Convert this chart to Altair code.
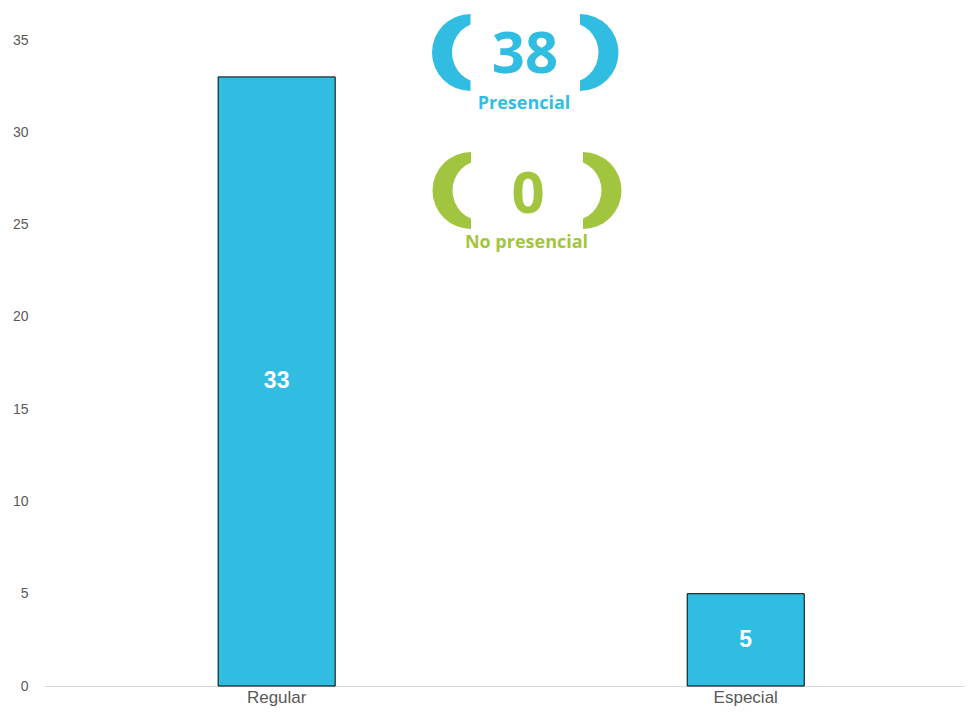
import math
import altair as alt
import pandas as pd

# ---------------- data ----------------
categories = ["Regular", "Especial"]
counts = [33, 5]
y_ticks = [0, 5, 10, 15, 20, 25, 30, 35]

kpi_values = [38, 0]
kpi_labels = ["Presencial", "No presencial"]
kpi_colors = ["#31BDE2", "#A2C540"]

# ---------------- style ----------------
BAR_COLOR = "#31BDE2"
AXIS_TEXT = "#595959"
FONT = "Liberation Sans"
KPI_FONT = "Open Sans"

bars_df = pd.DataFrame({"tipo": categories, "n": counts})

x_enc = alt.X(
    "tipo:N",
    sort=categories,
    title=None,
    scale=alt.Scale(paddingInner=0.7505, paddingOuter=0.357, align=0.52),
    axis=alt.Axis(
        labelAngle=0,
        labelFont=FONT,
        labelFontSize=17,
        labelColor=AXIS_TEXT,
        labelPadding=3,
        ticks=False,
        domainColor="#D9D9D9",
        domainWidth=1,
    ),
)
y_enc = alt.Y(
    "n:Q",
    title=None,
    scale=alt.Scale(domain=[0, 35], nice=False),
    axis=alt.Axis(
        values=y_ticks,
        grid=False,
        domain=False,
        ticks=False,
        labelFont=FONT,
        labelFontSize=14,
        labelColor=AXIS_TEXT,
        labelPadding=16,
    ),
)

bars = alt.Chart(bars_df).mark_bar(
    color=BAR_COLOR, stroke="#000000", strokeWidth=1
).encode(x=x_enc, y=y_enc)

bar_labels = (
    alt.Chart(bars_df)
    .transform_calculate(mid="datum.n / 2")
    .mark_text(font=FONT, fontSize=23, fontWeight="bold", color="white", baseline="middle")
    .encode(
        x=alt.X("tipo:N", sort=categories, title=None),
        y=alt.Y("mid:Q", title=None),
        text=alt.Text("n:Q"),
    )
)


def kpi_layers(i, cx_left, cx_right, cy, r_out, r_in, inner_off, num_y, num_x, lab_y, lab_x):
    df = pd.DataFrame({"value": [kpi_values[i]], "label": [kpi_labels[i]]})
    base = alt.Chart(df)
    col = kpi_colors[i]
    left = base.mark_arc(color=col).encode(
        x=alt.value(cx_left), y=alt.value(cy),
        theta=alt.value(math.pi), theta2=alt.value(2 * math.pi),
        radius=alt.value(r_out), radius2=alt.value(0),
    )
    right = base.mark_arc(color=col).encode(
        x=alt.value(cx_right), y=alt.value(cy),
        theta=alt.value(0), theta2=alt.value(math.pi),
        radius=alt.value(r_out), radius2=alt.value(0),
    )
    left_hole = base.mark_arc(color="white").encode(
        x=alt.value(cx_left + inner_off), y=alt.value(cy),
        theta=alt.value(0), theta2=alt.value(2 * math.pi),
        radius=alt.value(r_in), radius2=alt.value(0),
    )
    right_hole = base.mark_arc(color="white").encode(
        x=alt.value(cx_right - inner_off), y=alt.value(cy),
        theta=alt.value(0), theta2=alt.value(2 * math.pi),
        radius=alt.value(r_in), radius2=alt.value(0),
    )
    num = base.mark_text(
        font=KPI_FONT, fontSize=58, fontWeight="bold", color=col, baseline="middle", align="center"
    ).encode(x=alt.value(num_x), y=alt.value(num_y), text=alt.Text("value:N"))
    lab = base.mark_text(
        font=KPI_FONT, fontSize=18, fontWeight="bold", color=col, baseline="middle", align="center"
    ).encode(x=alt.value(lab_x), y=alt.value(lab_y), text=alt.Text("label:N"))
    return [left, right, left_hole, right_hole, num, lab]


kpi1 = kpi_layers(0, 426.5, 536, 12.5, 38.5, 30.7, 12.2, 16, 481, 64, 480)
kpi2 = kpi_layers(1, 427, 539, 150.5, 38.5, 30.7, 12.2, 156, 484, 203, 482.5)

chart = (
    alt.layer(bars, bar_labels, *kpi1, *kpi2)
    .properties(
        width=921,
        height=646,
        padding={"left": 36, "top": 32, "right": 0, "bottom": 21},
        autosize="none",
        background="white",
    )
    .configure_view(stroke=None)
)

chart.save("out.html", embed_options={"renderer": "svg", "actions": False})
